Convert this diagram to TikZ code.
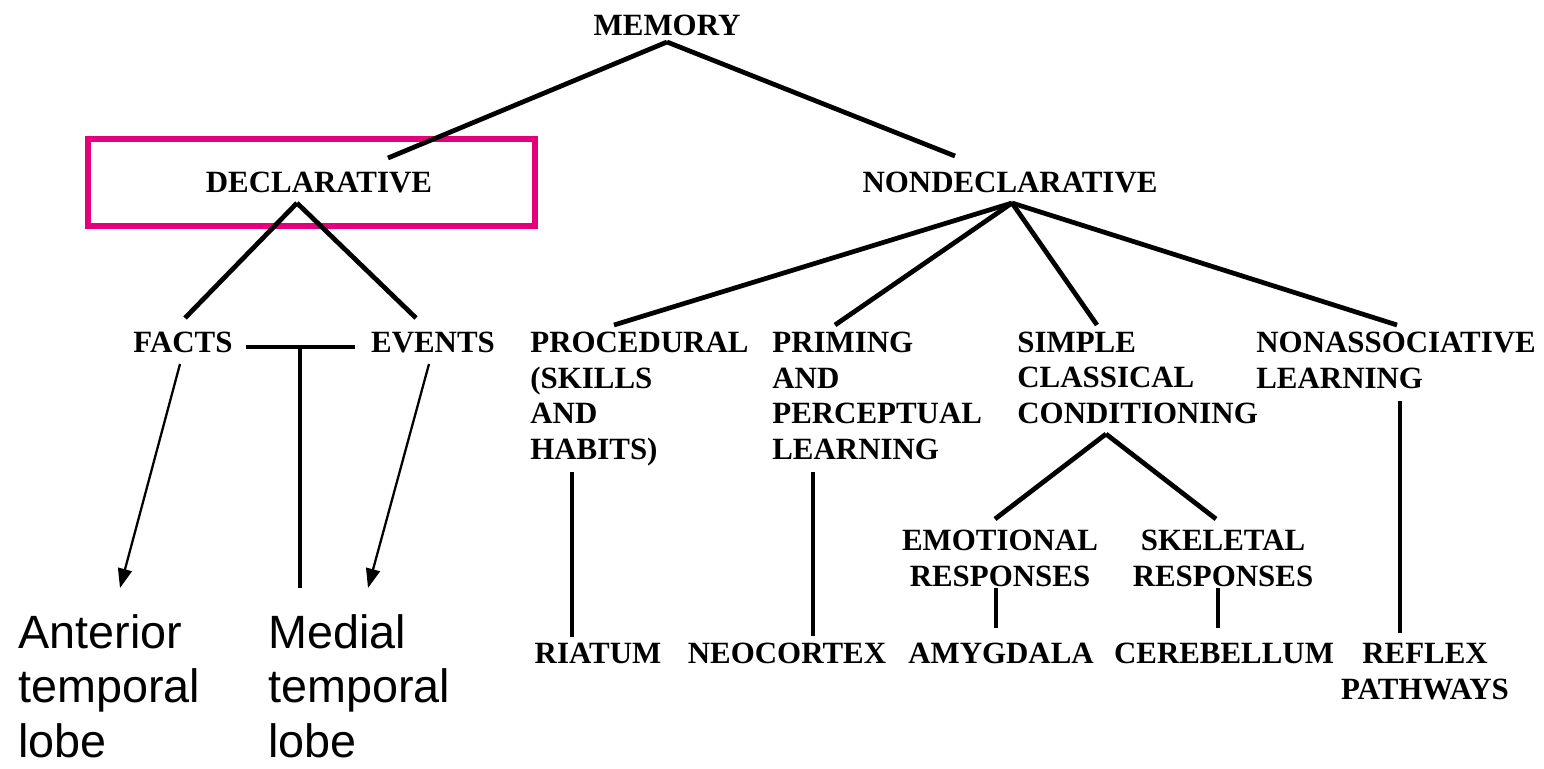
\documentclass[tikz,border=0pt]{standalone}
\usepackage{fontspec}
\setmainfont{Liberation Serif}
\setsansfont{Liberation Sans}
\usepackage{tikz}
\usepackage{xcolor}
\usetikzlibrary{arrows.meta, positioning}
\definecolor{mPink}{RGB}{228,0,124}

\tikzset{
  term/.style={font=\bfseries\fontsize{17.6}{20.2}\selectfont, inner sep=0pt, align=left},
  site/.style={font=\bfseries\fontsize{17.6}{20.2}\selectfont, inner sep=0pt, align=center},
  lobe/.style={font=\sffamily\fontsize{26.6}{30.9}\selectfont, inner sep=0pt, align=left},
  branch/.style={line width=2.7pt},
  pointer/.style={line width=1.3pt, -{Triangle[length=11pt,width=8pt]}}
}

\begin{document}
\begin{tikzpicture}[x=0.02cm, y=-0.02cm]
  \useasboundingbox (0,0) rectangle (1544,768);
  % top levels (base = last line)
  \node[term, anchor=base] (memory) at (667,35) {MEMORY};
  \node[term, anchor=base] (decl) at (319,192) {DECLARATIVE};
  \node[term, anchor=base] (nondecl) at (1010,192) {NONDECLARATIVE};
  \draw[mPink, line width=3pt] (88,139) rectangle (535,226);

  % declarative side
  \node[term, anchor=base] (facts) at (183,352) {FACTS};
  \node[term, anchor=base] (events) at (433,352) {EVENTS};
  \node[lobe, anchor=base west] (anterior) at (18,757) {Anterior\\temporal\\lobe};
  \node[lobe, anchor=base west] (medial) at (268,757) {Medial\\temporal\\lobe};

  % nondeclarative side
  \node[term, anchor=base west] (proc) at (530,459) {PROCEDURAL\\(SKILLS\\AND\\HABITS)};
  \node[term, anchor=base west] (priming) at (772,459) {PRIMING\\AND\\PERCEPTUAL\\LEARNING};
  \node[term, anchor=base west] (simple) at (1017,423) {SIMPLE\\CLASSICAL\\CONDITIONING};
  \node[term, anchor=base west] (nonassoc) at (1256,388) {NONASSOCIATIVE\\LEARNING};
  \node[site, anchor=base] (emot) at (1000,586) {EMOTIONAL\\RESPONSES};
  \node[site, anchor=base] (skel) at (1223,586) {SKELETAL\\RESPONSES};

  % brain sites
  \node[site, anchor=base] (striatum) at (598,663) {RIATUM};
  \node[site, anchor=base] (neocortex) at (787,663) {NEOCORTEX};
  \node[site, anchor=base] (amygdala) at (1001,663) {AMYGDALA};
  \node[site, anchor=base] (cerebellum) at (1224,663) {CEREBELLUM};
  \node[site, anchor=base] (reflex) at (1425,699) {REFLEX\\PATHWAYS};

  % joints and ends
  \coordinate (memJ) at (667,42);
  \coordinate (declIn) at (388,158);
  \coordinate (nondeclIn) at (955,156);
  \coordinate (declJ) at (297,203);
  \coordinate (factsIn) at (185,318);
  \coordinate (eventsIn) at (416,318);
  \coordinate (nondeclJ) at (1012,203);
  \coordinate (procIn) at (614,325);
  \coordinate (primingIn) at (835,325);
  \coordinate (simpleIn) at (1097,325);
  \coordinate (nonassocIn) at (1397,325);
  \coordinate (barL) at (246,347);
  \coordinate (barR) at (355,347);
  \coordinate (barM) at (300,347);
  \coordinate (medialIn) at (300,588);
  \coordinate (factsOut) at (180,364);
  \coordinate (anteriorIn) at (120,588);
  \coordinate (eventsOut) at (429,364);
  \coordinate (medialTip) at (368,588);
  \coordinate (condJ) at (1106,434);
  \coordinate (emotIn) at (995,519);
  \coordinate (skelIn) at (1216,519);

  \draw[branch] (memJ) -- (declIn);
  \draw[branch] (memJ) -- (nondeclIn);
  \draw[branch] (declJ) -- (factsIn);
  \draw[branch] (declJ) -- (eventsIn);
  \foreach \kid in {procIn,primingIn,simpleIn,nonassocIn}
    \draw[branch] (nondeclJ) -- (\kid);
  \draw[branch] (barL) -- (barR);
  \draw[branch] (barM) -- (medialIn);
  \draw[pointer] (factsOut) -- (anteriorIn);
  \draw[pointer] (eventsOut) -- (medialTip);
  \draw[branch] (572,472) -- (572,637);
  \draw[branch] (813,472) -- (813,636);
  \draw[branch] (condJ) -- (emotIn);
  \draw[branch] (condJ) -- (skelIn);
  \draw[branch] (996,588) -- (996,628);
  \draw[branch] (1218,588) -- (1218,628);
  \draw[branch] (1400,401) -- (1400,633);
\end{tikzpicture}
\end{document}
